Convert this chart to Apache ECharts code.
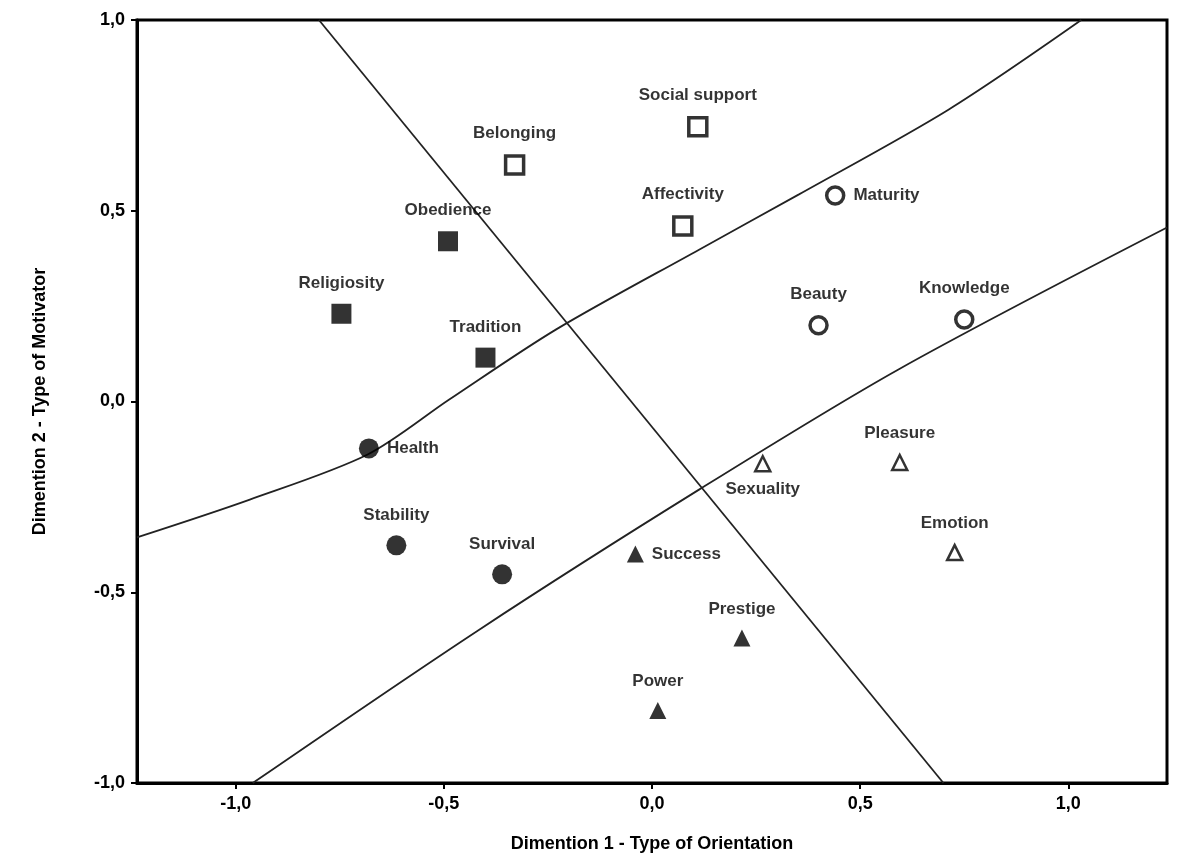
<!DOCTYPE html>
<html><head><meta charset="utf-8">
<script src="https://cdn.jsdelivr.net/npm/echarts@6/dist/echarts.min.js"></script>
<style>html,body{margin:0;background:#fff}#c{width:1184px;height:863px}</style></head>
<body><div id="c"></div>
<script>
const names=["Social support","Belonging","Affectivity","Obedience","Religiosity","Tradition","Maturity","Beauty","Knowledge","Health","Stability","Survival","Sexuality","Pleasure","Emotion","Success","Prestige","Power"];
const xs=[0.11,-0.33,0.074,-0.49,-0.746,-0.40,0.44,0.40,0.75,-0.68,-0.614,-0.36,0.266,0.595,0.727,-0.04,0.216,0.014];
const ys=[0.72,0.62,0.46,0.42,0.23,0.115,0.54,0.20,0.215,-0.123,-0.377,-0.453,-0.163,-0.16,-0.396,-0.40,-0.62,-0.81];
const groups=["openSq","openSq","openSq","sq","sq","sq","openCi","openCi","openCi","ci","ci","ci","openTri","openTri","openTri","tri","tri","tri"];
const labelPos=["top","top","top","top","top","top","right","top","top","right","top","top","bottom","top","top","right","top","top"];
const tickVals=[-1,-0.5,0,0.5,1];
const straightLine=[[-0.80,1.0],[0.70,-1.0]];
const upperCurve=[[-1.237,-0.356],[-0.966,-0.257],[-0.683,-0.139],[-0.487,0.005],[-0.23,0.189],[0.113,0.398],[0.353,0.543],[0.712,0.765],[1.031,1.0]];
const lowerCurve=[[-0.959,-1.0],[-0.415,-0.598],[0.113,-0.231],[0.592,0.084],[1.237,0.456]];

const style={
 sq:{symbol:'rect',size:20,fill:'#000',bw:0},
 openSq:{symbol:'rect',size:18,fill:'#fff',bw:3.5},
 ci:{symbol:'circle',size:20,fill:'#000',bw:0},
 openCi:{symbol:'circle',size:17,fill:'#fff',bw:3.5},
 tri:{symbol:'triangle',size:17,fill:'#000',bw:0},
 openTri:{symbol:'triangle',size:15,fill:'#fff',bw:2.5}
};
const pts=names.map((n,i)=>{const s=style[groups[i]];return{
 name:n,value:[xs[i],ys[i]],symbol:s.symbol,symbolSize:s.size,
 itemStyle:{color:s.fill,borderColor:'#000',borderWidth:s.bw},
 label:{show:true,position:labelPos[i],formatter:n,distance:labelPos[i]==='top'?12:8,color:'#000',fontSize:17,fontWeight:'bold'}
};});
const fmt=v=>v.toFixed(1).replace('.',',');
const lineS=(d,smooth)=>({type:'line',data:d,smooth:smooth,showSymbol:false,lineStyle:{color:'#222',width:1.8},silent:true,z:1});
const chart=echarts.init(document.getElementById('c'));
chart.setOption({
 animation:false,
 textStyle:{fontFamily:'Liberation Sans, Arial',fontWeight:'bold',color:'#000'},
 grid:{left:137,right:17,top:20,bottom:80,show:true,borderColor:'#000',borderWidth:3},
 xAxis:{type:'value',min:-1.237,max:1.237,
  name:'Dimention 1 - Type of Orientation',nameLocation:'middle',nameGap:52,
  nameTextStyle:{fontSize:18,fontWeight:'bold',color:'#000'},
  axisLine:{onZero:false,lineStyle:{color:'#000',width:3}},
  axisTick:{customValues:tickVals,length:6,lineStyle:{color:'#000',width:2}},
  axisLabel:{customValues:tickVals,formatter:fmt,fontSize:18,fontWeight:'bold',color:'#000',margin:12},
  splitLine:{show:false}},
 yAxis:{type:'value',min:-1,max:1,
  name:'Dimention 2 - Type of Motivator',nameLocation:'middle',nameGap:88,
  nameTextStyle:{fontSize:18,fontWeight:'bold',color:'#000'},
  axisLine:{onZero:false,lineStyle:{color:'#000',width:3}},
  axisTick:{customValues:tickVals,length:6,lineStyle:{color:'#000',width:2}},
  axisLabel:{customValues:tickVals,formatter:fmt,fontSize:18,fontWeight:'bold',color:'#000',margin:12},
  splitLine:{show:false}},
 series:[
  lineS(straightLine,false),lineS(upperCurve,0.3),lineS(lowerCurve,0.3),
  {type:'scatter',data:pts,z:3}
 ]
});
</script></body></html>
